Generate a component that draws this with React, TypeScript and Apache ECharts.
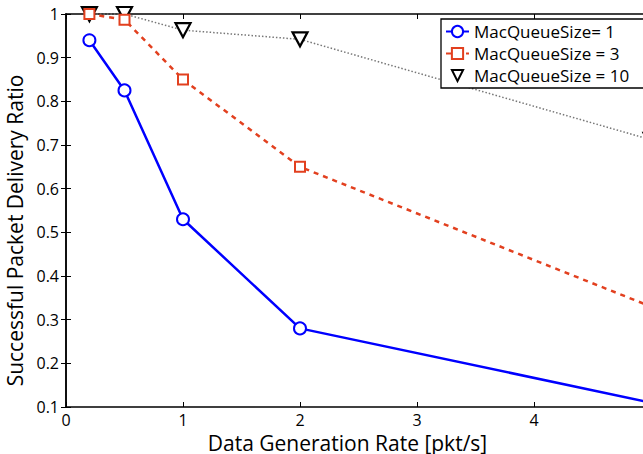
import React, { useEffect, useRef } from "react";
import * as echarts from "echarts";

const xRates = [0.2, 0.5, 1, 2, 5];
const queue1 = [0.94, 0.825, 0.53, 0.28, 0.11];
const queue3 = [1.0, 0.987, 0.85, 0.65, 0.33];
const queue10 = [1.0, 1.0, 0.963, 0.942, 0.712];
const seriesNames = ["MacQueueSize= 1", "MacQueueSize = 3", "MacQueueSize = 10"];
const xTitle = "Data Generation Rate [pkt/s]";
const yTitle = "Successful Packet Delivery Ratio";

const FONT = "'Open Sans', 'Noto Sans', sans-serif";

function pairs(ys: number[]) {
  return xRates.map((x, i) => [x, ys[i]]);
}

export default function App() {
  const ref = useRef<HTMLDivElement>(null);
  useEffect(() => {
    if (!ref.current) return;
    const chart = echarts.init(ref.current, null, { renderer: "svg" });
    const axisLine = { show: true, lineStyle: { color: "#000", width: 1.5 } };
    chart.setOption({
      animation: false,
      backgroundColor: "#fff",
      textStyle: { fontFamily: FONT },
      grid: {
        left: 66,
        top: 14,
        right: 9,
        bottom: 47,
        containLabel: false,
        outerBoundsMode: "none",
      },
      legend: {
        orient: "vertical",
        left: 441,
        top: 19,
        padding: [3, 60, 3, 4],
        itemGap: 3,
        itemWidth: 23,
        itemHeight: 14,
        borderColor: "#000",
        borderWidth: 1.3,
        borderRadius: 0,
        backgroundColor: "#fff",
        textStyle: { fontFamily: FONT, fontSize: 17, color: "#000", lineHeight: 19 },
        data: [
          { name: seriesNames[0] },
          { name: seriesNames[1] },
          { name: seriesNames[2], lineStyle: { opacity: 0 } },
        ],
      },
      xAxis: [
        {
          type: "value",
          min: 0,
          max: 5,
          interval: 1,
          position: "bottom",
          axisLine,
          axisTick: { show: true, inside: true, length: 5, lineStyle: { color: "#000", width: 1 } },
          axisLabel: { color: "#000", fontSize: 16, fontFamily: FONT, margin: 5, showMaxLabel: false },
          splitLine: { show: false },
          name: xTitle,
          nameLocation: "middle",
          nameGap: 17,
          nameTextStyle: {
            color: "#000",
            fontSize: 21,
            fontFamily: FONT,
            padding: [0, 22, 0, 0],
          },
        },
        {
          type: "value",
          min: 0,
          max: 5,
          interval: 1,
          position: "top",
          axisLine,
          axisTick: { show: true, inside: true, length: 5, lineStyle: { color: "#000", width: 1 } },
          axisLabel: { show: false },
          splitLine: { show: false },
        },
      ],
      yAxis: [
        {
          type: "value",
          min: 0.1,
          max: 1,
          interval: 0.1,
          position: "left",
          axisLine,
          axisTick: { show: true, inside: true, length: 5, lineStyle: { color: "#000", width: 1 } },
          axisLabel: { color: "#000", fontSize: 16, fontFamily: FONT, margin: 7 },
          splitLine: { show: false },
          name: yTitle,
          nameLocation: "middle",
          nameGap: 25,
          nameTextStyle: { color: "#000", fontSize: 21, fontFamily: FONT, padding: [0, 40, 0, 0] },
        },
        {
          type: "value",
          min: 0.1,
          max: 1,
          interval: 0.1,
          position: "right",
          axisLine,
          axisTick: { show: true, inside: true, length: 5 },
          axisLabel: { show: false },
          splitLine: { show: false },
        },
      ],
      series: [
        {
          name: seriesNames[2],
          type: "line",
          data: pairs(queue10),
          symbol: "triangle",
          symbolRotate: 180,
          symbolSize: [15, 14],
          lineStyle: { color: "#777", width: 1.5, type: [1.5, 2] },
          itemStyle: { color: "#fff", borderColor: "#000", borderWidth: 2.2 },
          z: 2,
        },
        {
          name: seriesNames[1],
          type: "line",
          data: pairs(queue3),
          symbol: "rect",
          symbolSize: 10,
          lineStyle: { color: "#e2401f", width: 2.5, type: [5, 5] },
          itemStyle: { color: "#fff", borderColor: "#e2401f", borderWidth: 2 },
          z: 3,
        },
        {
          name: seriesNames[0],
          type: "line",
          data: pairs(queue1),
          symbol: "circle",
          symbolSize: 12,
          lineStyle: { color: "#0000ff", width: 2.5 },
          itemStyle: { color: "#fff", borderColor: "#0000ff", borderWidth: 2 },
          z: 4,
        },
      ],
    });
    return () => chart.dispose();
  }, []);
  return (
    <div
      style={{ position: "absolute", left: 0, top: 0, width: 643, height: 454, overflow: "hidden" }}
    >
      <div ref={ref} style={{ width: 660, height: 454 }} />
    </div>
  );
}
